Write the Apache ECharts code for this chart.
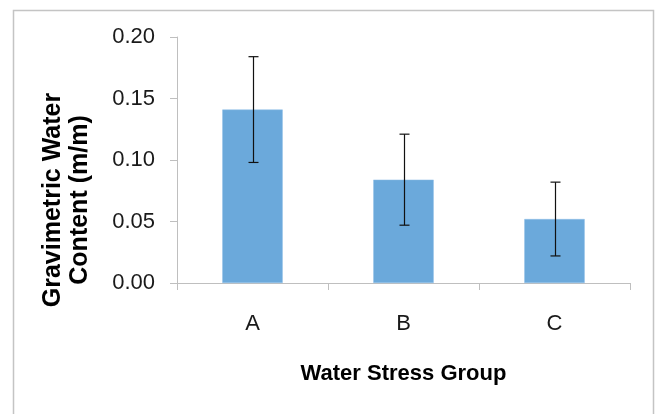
<!DOCTYPE html>
<html>
<head>
<meta charset="utf-8">
<script src="https://cdn.jsdelivr.net/npm/echarts@6/dist/echarts.min.js"></script>
<style>
html,body{margin:0;padding:0;background:#fff;}
#chart{width:660px;height:414px;}
</style>
</head>
<body>
<div id="chart"></div>
<script>
const categories = ['A', 'B', 'C'];
const meanValues = [0.141, 0.084, 0.052];
const errorValues = [0.043, 0.037, 0.030];
const yTicks = ['0.00', '0.05', '0.10', '0.15', '0.20'];
const xTitle = 'Water Stress Group';
const yTitle = 'Gravimetric Water\nContent (m/m)';

const errorData = categories.map((c, i) => [i, meanValues[i] - errorValues[i], meanValues[i] + errorValues[i]]);

const chart = echarts.init(document.getElementById('chart'), null, {renderer: 'canvas'});
chart.setOption({
  animation: false,
  backgroundColor: '#ffffff',
  grid: {left: 177, right: 30, top: 37, height: 246},
  graphic: [
    {type: 'rect', shape: {x: 13.5, y: 10.5, width: 640, height: 420}, style: {fill: 'none', stroke: '#c4c4c4', lineWidth: 1.5}, z: -1},
    {type: 'text', x: 67, y: 200, rotation: Math.PI / 2,
     style: {text: yTitle, font: 'bold 25px "Liberation Sans", Arial, sans-serif', fill: '#000', align: 'center', verticalAlign: 'middle', lineHeight: 27}}
  ],
  xAxis: {
    type: 'category',
    data: categories,
    name: xTitle,
    nameLocation: 'middle',
    nameGap: 80,
    nameTextStyle: {fontFamily: '"Liberation Sans", Arial, sans-serif', fontSize: 22, fontWeight: 'bold', color: '#000'},
    axisLine: {lineStyle: {color: '#bfbfbf', width: 1}},
    axisTick: {show: true, alignWithLabel: false, length: 7, lineStyle: {color: '#bfbfbf'}},
    axisLabel: {margin: 30, fontFamily: '"Liberation Sans", Arial, sans-serif', fontSize: 22, color: '#1a1a1a'}
  },
  yAxis: {
    type: 'value',
    min: 0, max: 0.2, interval: 0.05,
    axisLine: {show: true, lineStyle: {color: '#bfbfbf', width: 1}},
    axisTick: {show: true, length: 7, lineStyle: {color: '#bfbfbf'}},
    splitLine: {show: false},
    axisLabel: {margin: 22, fontFamily: '"Liberation Sans", Arial, sans-serif', fontSize: 22, color: '#1a1a1a',
      formatter: (v) => yTicks[Math.round(v / 0.05)]}
  },
  series: [
    {
      type: 'bar',
      data: meanValues,
      barWidth: '40%',
      itemStyle: {color: '#6BA9DB', borderColor: '#8fbfe6', borderWidth: 0.5},
      z: 2
    },
    {
      type: 'custom',
      data: errorData,
      z: 3,
      renderItem: function (params, api) {
        const x = api.value(0);
        const lo = api.coord([x, api.value(1)]);
        const hi = api.coord([x, api.value(2)]);
        const cx = Math.round(lo[0]) + 0.5;
        const half = 5;
        const st = {stroke: '#111', lineWidth: 1.2};
        return {
          type: 'group',
          children: [
            {type: 'line', shape: {x1: cx, y1: hi[1], x2: cx, y2: lo[1]}, style: st},
            {type: 'line', shape: {x1: cx - half, y1: hi[1], x2: cx + half, y2: hi[1]}, style: st},
            {type: 'line', shape: {x1: cx - half, y1: lo[1], x2: cx + half, y2: lo[1]}, style: st}
          ]
        };
      }
    }
  ]
});
</script>
</body>
</html>
